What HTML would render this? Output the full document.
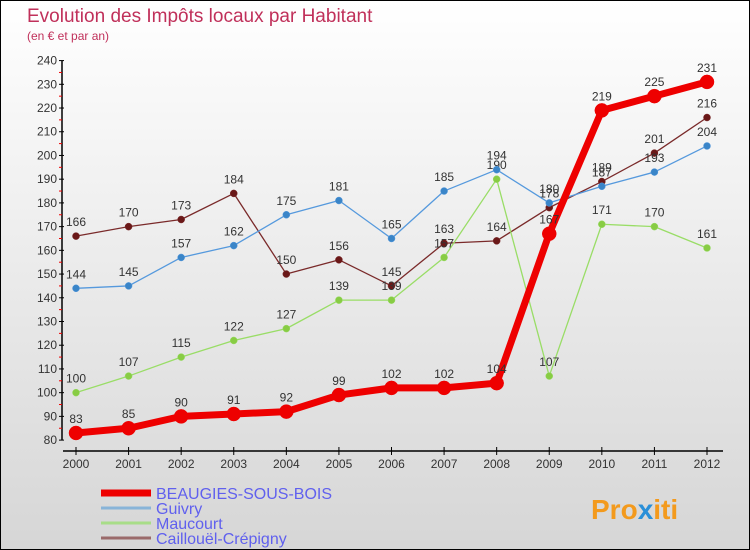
<!DOCTYPE html>
<html><head><meta charset="utf-8"><style>
body{margin:0;}
#c{width:750px;height:550px;position:relative;box-sizing:border-box;border:1px solid #000;background:linear-gradient(#ffffff,#d6d6d6);font-family:"Liberation Sans",sans-serif;overflow:hidden}
svg{position:absolute;left:0;top:0}
</style></head><body>
<div id="c">
<svg id="s" width="750" height="550">
<text x="26" y="21" font-size="19" fill="#c0305a">Evolution des Impôts locaux par Habitant</text>
<text x="26" y="39" font-size="12" fill="#c0305a">(en € et par an)</text>
<text x="590" y="518" font-size="28" font-weight="bold" fill="#f39a1d">Pro<tspan fill="#2a8fd8">x</tspan>iti</text>
</svg>
</div>
<script>
const years=[2000,2001,2002,2003,2004,2005,2006,2007,2008,2009,2010,2011,2012];
const beaugies=[83,85,90,91,92,99,102,102,104,167,219,225,231];
const guivry=[144,145,157,162,175,181,165,185,194,180,187,193,204];
const maucourt=[100,107,115,122,127,139,139,157,190,107,171,170,161];
const caillouel=[166,170,173,184,150,156,145,163,164,178,189,201,216];
const yTicks=[80,90,100,110,120,130,140,150,160,170,180,190,200,210,220,230,240];
const NS="http://www.w3.org/2000/svg";
const svg=document.getElementById('s');
const X=i=>75+i*(706-75)/(years.length-1);
const Y=v=>439.1-(v-80)*2.372;
function mk(t,a,p){const e=document.createElementNS(NS,t);for(const k in a)e.setAttribute(k,a[k]);(p||svg).appendChild(e);return e;}
// axes
let ax=mk('line',{x1:61,y1:Y(240),x2:61,y2:Y(80),stroke:'#000','stroke-width':1.5});


let bx=mk('line',{x1:62,y1:450,x2:722,y2:450,stroke:'#000','stroke-width':1.5});


yTicks.forEach((v,i)=>{
 mk('line',{x1:58,y1:Y(v),x2:63,y2:Y(v),stroke:'#000'});
 if(i<yTicks.length-1) mk('line',{x1:58,y1:Y(v+5),x2:61,y2:Y(v+5),stroke:'#e00'});
 const t=mk('text',{x:56,y:Y(v)+4,'font-size':12,'text-anchor':'end',fill:'#333'});
 t.textContent=v;
 
 
});
years.forEach((y,i)=>{
 mk('line',{x1:X(i),y1:446,x2:X(i),y2:454,stroke:'#000'});
 const t=mk('text',{x:X(i),y:467,'font-size':12,'text-anchor':'middle',fill:'#333'});
 t.textContent=y;
 
 
});
function series(vals,color,dot,w,r,name){
 const g=mk('g',{});
 
 
 mk('polyline',{points:vals.map((v,i)=>X(i)+','+Y(v)).join(' '),fill:'none',stroke:color,'stroke-width':w,'stroke-linejoin':'round'},g);
 vals.forEach((v,i)=>{
  const c=mk('circle',{cx:X(i),cy:Y(v),r:r,fill:dot,stroke:color,'stroke-width':0.5},g);
  
  
  const t=mk('text',{x:X(i),y:Y(v)-10,'font-size':12,'text-anchor':'middle',fill:'#333'},g);
  t.textContent=v;
 });
}
series(caillouel,'#7a2a2a','#6a1818',1.3,3.5,'caillouel-series');
series(maucourt,'#99dd66','#88cc44',1.3,3.5,'maucourt-series');
series(guivry,'#5599dd','#3a85c8',1.3,3.5,'guivry-series');
series(beaugies,'#ee0000','#ee0000',7,7,'beaugies-series');
const leg=[['BEAUGIES-SOUS-BOIS','#ee0000',7],['Guivry','#88b4d8',3],['Maucourt','#a8dd88',3],['Caillouël-Crépigny','#9a6a6a',3]];
leg.forEach((l,i)=>{
 const g=mk('g',{});
 
 
 const y=492+i*15;
 mk('line',{x1:100,y1:y,x2:150,y2:y,stroke:l[1],'stroke-width':l[2]},g);
 const t=mk('text',{x:155,y:y+6,'font-size':16,fill:'#6060ee'},g);
 t.textContent=l[0];
});
</script>
</body></html>
